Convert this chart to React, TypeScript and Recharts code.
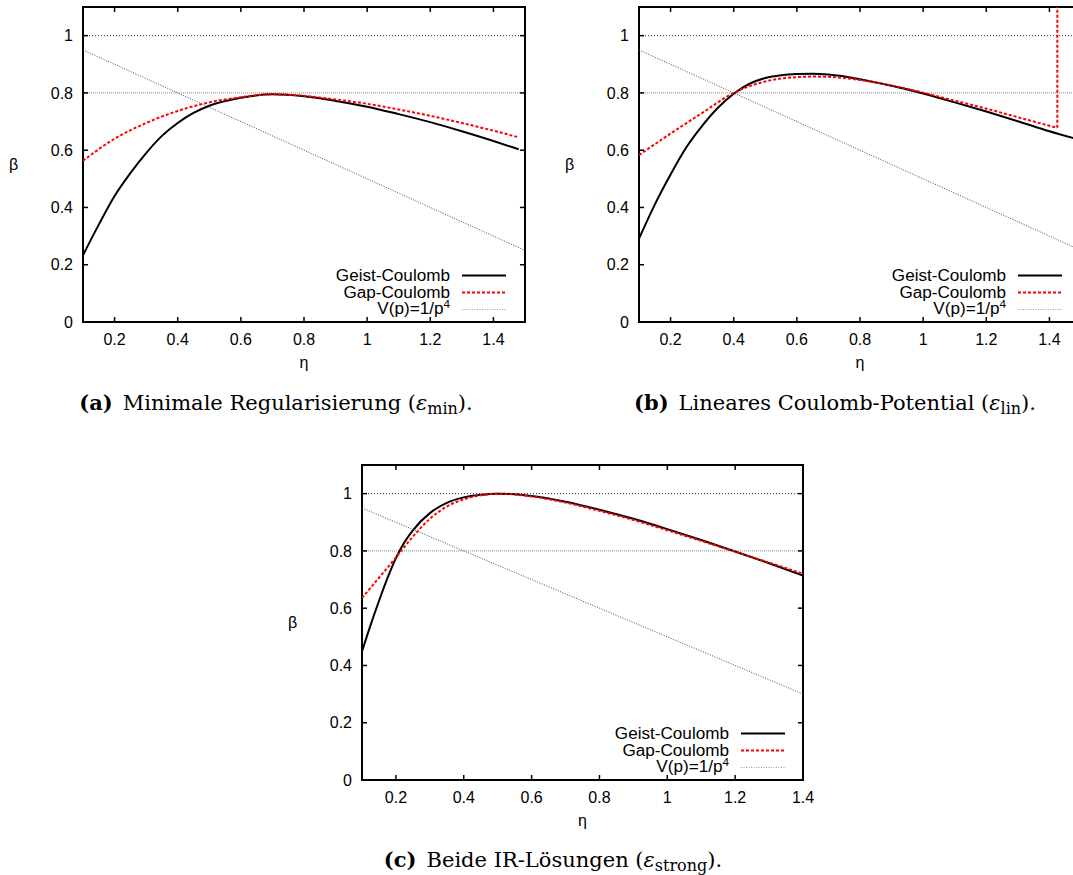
import React from 'react';
import { LineChart, Line, XAxis, YAxis, ReferenceLine, ReferenceArea, Legend } from 'recharts';

// ---------- shared axis values ----------
const yTicks = [0, 0.2, 0.4, 0.6, 0.8, 1];
const xTicks = [0.2, 0.4, 0.6, 0.8, 1, 1.2, 1.4];
const yDomain = [0, 1.1];
const xDomainAB = [0.1, 1.5];
const xDomainC = [0.1, 1.4];
const refLevels = [1, 0.8];
const seriesNames = ['Geist-Coulomb', 'Gap-Coulomb', 'V(p)=1/p^4'];

// ---------- panel (a) ----------
const etaA_geist = [0.1, 0.15, 0.2, 0.25, 0.3, 0.35, 0.4, 0.45, 0.5, 0.6, 0.7, 0.8, 0.9, 1.0, 1.1, 1.2, 1.3, 1.4, 1.48];
const betaA_geist = [0.233, 0.34, 0.44, 0.52, 0.59, 0.65, 0.695, 0.73, 0.755, 0.783, 0.795, 0.788, 0.772, 0.752, 0.726, 0.698, 0.666, 0.632, 0.603];
const etaA_gap = [0.1, 0.2, 0.3, 0.4, 0.5, 0.6, 0.7, 0.8, 0.9, 1.0, 1.1, 1.2, 1.3, 1.4, 1.48];
const betaA_gap = [0.563, 0.64, 0.695, 0.737, 0.767, 0.785, 0.795, 0.79, 0.777, 0.762, 0.742, 0.72, 0.695, 0.668, 0.645];
const etaA_pot = [0.1, 1.5];
const betaA_pot = [0.95, 0.25];

// ---------- panel (b) ----------
const etaB_geist = [0.1, 0.15, 0.2, 0.25, 0.3, 0.35, 0.4, 0.45, 0.5, 0.55, 0.6, 0.65, 0.7, 0.8, 0.9, 1.0, 1.1, 1.2, 1.3, 1.4, 1.5];
const betaB_geist = [0.291, 0.41, 0.515, 0.61, 0.685, 0.748, 0.797, 0.832, 0.852, 0.862, 0.866, 0.867, 0.864, 0.848, 0.825, 0.798, 0.767, 0.735, 0.701, 0.666, 0.635];
const etaB_gap = [0.1, 0.2, 0.3, 0.4, 0.5, 0.6, 0.65, 0.7, 0.8, 0.9, 1.0, 1.1, 1.2, 1.3, 1.425];
const betaB_gap = [0.583, 0.658, 0.73, 0.8, 0.84, 0.855, 0.857, 0.856, 0.845, 0.826, 0.801, 0.773, 0.745, 0.715, 0.678];
const etaB_gapJump = [1.425, 1.425];
const betaB_gapJump = [0.678, 1.1];
const etaB_pot = [0.1, 1.5];
const betaB_pot = [0.95, 0.25];

// ---------- panel (c) ----------
const etaC_geist = [0.1, 0.125, 0.15, 0.175, 0.2, 0.225, 0.25, 0.3, 0.35, 0.4, 0.45, 0.5, 0.55, 0.6, 0.7, 0.8, 0.9, 1.0, 1.1, 1.2, 1.3, 1.4];
const betaC_geist = [0.449, 0.54, 0.625, 0.705, 0.775, 0.83, 0.872, 0.932, 0.968, 0.987, 0.996, 1.0, 0.998, 0.992, 0.972, 0.944, 0.912, 0.876, 0.838, 0.798, 0.757, 0.714];
const etaC_gap = [0.1, 0.15, 0.2, 0.25, 0.3, 0.35, 0.4, 0.45, 0.5, 0.6, 0.7, 0.8, 0.9, 1.0, 1.1, 1.2, 1.3, 1.4];
const betaC_gap = [0.636, 0.706, 0.777, 0.85, 0.912, 0.955, 0.98, 0.994, 1.0, 0.99, 0.969, 0.94, 0.908, 0.872, 0.835, 0.797, 0.759, 0.72];
const etaC_pot = [0.1, 1.4];
const betaC_pot = [0.95, 0.3];

const zip = (xs: number[], ys: number[]) => xs.map((e, i) => ({ eta: e, beta: ys[i] }));

// ---------- styles ----------
const SANS = '"Liberation Sans", Arial, Helvetica, sans-serif';
const SERIF = '"DejaVu Serif", "Liberation Serif", serif';

const seriesStyle: Record<string, { stroke: string; width: number; dash?: string }> = {
  'Geist-Coulomb': { stroke: '#000000', width: 2 },
  'Gap-Coulomb': { stroke: '#ff0000', width: 2, dash: '3 2' },
  'V(p)=1/p^4': { stroke: '#4a4a4a', width: 1, dash: '1 1.5' },
};
const refStyle: Record<number, { stroke: string; dash: string }> = {
  1: { stroke: '#333333', dash: '1 2' },
  0.8: { stroke: '#8a8a8a', dash: '1 1' },
};

const renderName = (name: string) => {
  const i = name.indexOf('^');
  if (i < 0) return name;
  return (
    <>
      {name.slice(0, i)}
      <span style={{ fontSize: 11, position: 'relative', top: -6 }}>{name.slice(i + 1)}</span>
    </>
  );
};

const XTick = (props: any) => (
  <text x={props.x} y={props.y} textAnchor="middle" fontFamily={SANS} fontSize={16} fill="#000">
    {String(props.payload.value)}
  </text>
);
const YTick = (props: any) => (
  <text x={props.x} y={props.y} dy="0.36em" textAnchor="end" fontFamily={SANS} fontSize={16} fill="#000">
    {String(props.payload.value)}
  </text>
);

const LegendContent = (props: any) => {
  const items = (props.payload || [])
    .filter((p: any) => seriesStyle[p.value])
    .sort((a: any, b: any) => seriesNames.indexOf(a.value) - seriesNames.indexOf(b.value));
  return (
    <div style={{ fontFamily: SANS, fontSize: 16, color: '#000' }}>
      {items.map((p: any) => {
        const s = seriesStyle[p.value];
        return (
          <div key={p.value} style={{ display: 'flex', alignItems: 'center', height: 17 }}>
            <div
              style={{
                width: 160,
                textAlign: 'right',
                whiteSpace: 'nowrap',
                lineHeight: '17px',
                transform: 'scaleX(1.07)',
                transformOrigin: 'right center',
              }}
            >
              {renderName(p.value)}
            </div>
            <svg width={56} height={17} style={{ display: 'block' }}>
              <line
                x1={12}
                x2={56}
                y1={8.5}
                y2={8.5}
                stroke={p.value === 'V(p)=1/p^4' ? '#9a9a9a' : s.stroke}
                strokeWidth={s.width}
                strokeDasharray={s.dash}
              />
            </svg>
          </div>
        );
      })}
    </div>
  );
};

type Pt = { eta: number; beta: number };
type PanelProps = {
  left: number;
  top: number;
  width: number;
  xDomain: number[];
  geist: Pt[];
  gap: Pt[];
  gapJump?: Pt[];
  pot: Pt[];
  tickX: number; // inward tick length in eta units
};

const TICK_Y = 0.0175; // inward tick length in beta units

const Panel = ({ left, top, width, xDomain, geist, gap, gapJump, pot, tickX }: PanelProps) => {
  const H = 380;
  const [x0, x1] = xDomain;
  const [y0, y1] = yDomain;
  const ax = { xAxisId: 'b', yAxisId: 'l', ifOverflow: 'visible' as const };
  return (
    <div style={{ position: 'absolute', left, top, width, height: H }}>
      <LineChart width={width} height={H} margin={{ top: 7, right: 15, bottom: 8, left: 8 }}>
        <XAxis
          xAxisId="b"
          dataKey="eta"
          type="number"
          orientation="bottom"
          domain={xDomain}
          ticks={xTicks}
          interval={0}
          allowDataOverflow
          height={50}
          tickSize={0}
          tickMargin={23}
          axisLine={false}
          tickLine={false}
          tick={XTick}
          label={{ value: 'η', position: 'insideBottom', offset: 4, fontFamily: SANS, fontSize: 16, fill: '#000' }}
        />
        <YAxis
          yAxisId="l"
          type="number"
          orientation="left"
          domain={yDomain}
          ticks={yTicks}
          interval={0}
          allowDataOverflow
          width={75}
          tickSize={0}
          tickMargin={10}
          axisLine={false}
          tickLine={false}
          tick={YTick}
          label={{ value: 'β', position: 'insideLeft', offset: 1, fontFamily: SANS, fontSize: 16, fill: '#000' }}
        />
        {refLevels.map((v) => (
          <ReferenceLine
            key={'ref' + v}
            xAxisId="b"
            yAxisId="l"
            y={v}
            stroke={refStyle[v].stroke}
            strokeWidth={1}
            strokeDasharray={refStyle[v].dash}
          />
        ))}
        <Line
          xAxisId="b"
          yAxisId="l"
          name={seriesNames[0]}
          data={geist}
          dataKey="beta"
          type="monotone"
          stroke={seriesStyle[seriesNames[0]].stroke}
          strokeWidth={seriesStyle[seriesNames[0]].width}
          dot={false}
          activeDot={false}
          isAnimationActive={false}
        />
        <Line
          xAxisId="b"
          yAxisId="l"
          name={seriesNames[1]}
          data={gap}
          dataKey="beta"
          type="monotone"
          stroke={seriesStyle[seriesNames[1]].stroke}
          strokeWidth={seriesStyle[seriesNames[1]].width}
          strokeDasharray={seriesStyle[seriesNames[1]].dash}
          dot={false}
          activeDot={false}
          isAnimationActive={false}
        />
        {gapJump && (
          <Line
            xAxisId="b"
            yAxisId="l"
            name="Gap-Coulomb jump"
            legendType="none"
            data={gapJump}
            dataKey="beta"
            type="linear"
            stroke={seriesStyle[seriesNames[1]].stroke}
            strokeWidth={seriesStyle[seriesNames[1]].width}
            strokeDasharray={seriesStyle[seriesNames[1]].dash}
            dot={false}
            activeDot={false}
            isAnimationActive={false}
          />
        )}
        <Line
          xAxisId="b"
          yAxisId="l"
          name={seriesNames[2]}
          data={pot}
          dataKey="beta"
          type="linear"
          stroke={seriesStyle[seriesNames[2]].stroke}
          strokeWidth={seriesStyle[seriesNames[2]].width}
          strokeDasharray={seriesStyle[seriesNames[2]].dash}
          dot={false}
          activeDot={false}
          isAnimationActive={false}
        />
        {/* inward tick marks on all four sides */}
        {xTicks.map((t) => (
          <ReferenceLine key={'bt' + t} {...ax} segment={[{ x: t, y: y0 }, { x: t, y: y0 + TICK_Y }]} stroke="#000" strokeWidth={1.5} />
        ))}
        {xTicks.map((t) => (
          <ReferenceLine key={'tt' + t} {...ax} segment={[{ x: t, y: y1 }, { x: t, y: y1 - TICK_Y }]} stroke="#000" strokeWidth={1.5} />
        ))}
        {yTicks.map((t) => (
          <ReferenceLine key={'lt' + t} {...ax} segment={[{ x: x0, y: t }, { x: x0 + tickX, y: t }]} stroke="#000" strokeWidth={1.5} />
        ))}
        {yTicks.map((t) => (
          <ReferenceLine key={'rt' + t} {...ax} segment={[{ x: x1, y: t }, { x: x1 - tickX, y: t }]} stroke="#000" strokeWidth={1.5} />
        ))}
        {/* plot border */}
        <ReferenceArea {...ax} x1={x0} x2={x1} y1={y0} y2={y1} fill="none" fillOpacity={0} stroke="#000" strokeWidth={2} />
        <Legend
          layout="vertical"
          align="center"
          verticalAlign="middle"
          content={LegendContent}
          wrapperStyle={{ left: 290, top: 266.5, width: 216, height: 51 }}
        />
      </LineChart>
    </div>
  );
};

const Caption = ({ cx, cy, tag, text, sub }: { cx: number; cy: number; tag: string; text: string; sub: string }) => (
  <div
    style={{
      position: 'absolute',
      left: cx - 300,
      top: cy - 14,
      width: 600,
      height: 28,
      lineHeight: '28px',
      textAlign: 'center',
      fontFamily: SERIF,
      fontSize: 21,
      color: '#000',
      whiteSpace: 'nowrap',
    }}
  >
    <b>{tag}</b>
    <span style={{ marginLeft: 10 }}>{text} (</span>
    <i>ε</i>
    <span style={{ fontSize: 16, position: 'relative', top: 4 }}>{sub}</span>
    <span>).</span>
  </div>
);

export default function App() {
  return (
    <div style={{ position: 'absolute', left: 0, top: 0, width: 1073, height: 875, overflow: 'hidden', background: '#fff' }}>
      <Panel
        left={0}
        top={0}
        width={540}
        xDomain={xDomainAB}
        tickX={0.016}
        geist={zip(etaA_geist, betaA_geist)}
        gap={zip(etaA_gap, betaA_gap)}
        pot={zip(etaA_pot, betaA_pot)}
      />
      <Panel
        left={556}
        top={0}
        width={540}
        xDomain={xDomainAB}
        tickX={0.016}
        geist={zip(etaB_geist, betaB_geist)}
        gap={zip(etaB_gap, betaB_gap)}
        gapJump={zip(etaB_gapJump, betaB_gapJump)}
        pot={zip(etaB_pot, betaB_pot)}
      />
      <Panel
        left={279}
        top={458}
        width={539}
        xDomain={xDomainC}
        tickX={0.0148}
        geist={zip(etaC_geist, betaC_geist)}
        gap={zip(etaC_gap, betaC_gap)}
        pot={zip(etaC_pot, betaC_pot)}
      />
      <Caption cx={276} cy={403} tag="(a)" text="Minimale Regularisierung" sub="min" />
      <Caption cx={835} cy={403} tag="(b)" text="Lineares Coulomb-Potential" sub="lin" />
      <Caption cx={553} cy={860} tag="(c)" text="Beide IR-Lösungen" sub="strong" />
    </div>
  );
}
